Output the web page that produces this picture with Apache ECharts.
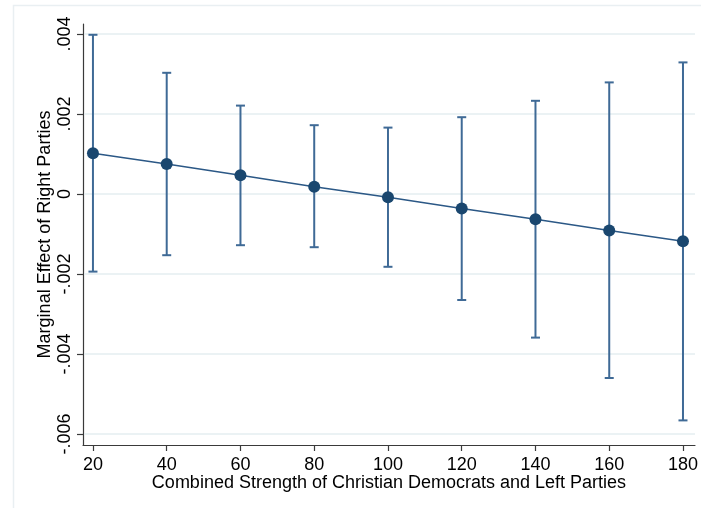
<!DOCTYPE html>
<html>
<head>
<meta charset="utf-8">
<script src="https://cdn.jsdelivr.net/npm/echarts@6/dist/echarts.min.js"></script>
<style>
  html, body { margin: 0; padding: 0; background: #ffffff; }
  #chart { width: 701px; height: 508px; }
</style>
</head>
<body>
<div id="chart"></div>
<script>
// Combined strength values at which the marginal effect is evaluated
const strength = [20, 40, 60, 80, 100, 120, 140, 160, 180];
// Marginal effect of right parties (point estimates)
const effect = [0.00102, 0.00075, 0.00047, 0.00018, -0.00008, -0.00036, -0.00063, -0.00091, -0.00118];
// Confidence interval bounds
const upper = [0.00398, 0.00303, 0.00221, 0.00172, 0.00166, 0.00192, 0.00233, 0.00279, 0.00329];
const lower = [-0.00194, -0.00153, -0.00128, -0.00133, -0.00182, -0.00265, -0.00359, -0.00460, -0.00566];

// Axis ticks and their labels
const xTicks = [20, 40, 60, 80, 100, 120, 140, 160, 180];
const yTicks = [-0.006, -0.004, -0.002, 0, 0.002, 0.004];
const yTickLabels = ['-.006', '-.004', '-.002', '0', '.002', '.004'];

const navy = '#1a476f';
const capColor = '#3f6a96';
const gridColor = '#e4eef0';
const axisColor = '#3a3a3a';
const font = "'Liberation Sans', Arial, sans-serif";
const textSize = 18;

const chart = echarts.init(document.getElementById('chart'), null, { renderer: 'canvas' });

const ciData = strength.map((s, i) => [s, lower[i], upper[i]]);
const pointData = strength.map((s, i) => [s, effect[i]]);
const gridData = yTicks.map(v => [v]);

chart.setOption({
  animation: false,
  backgroundColor: '#ffffff',
  graphic: [{
    type: 'rect',
    shape: { x: 13.5, y: 5.5, width: 720, height: 520 },
    style: { fill: 'none', stroke: '#e9eff2', lineWidth: 1.5 },
    silent: true,
    z: -10
  }],
  grid: { left: 83, right: 6, top: 24, bottom: 63, containLabel: false },
  xAxis: {
    type: 'value',
    min: 17.3,
    max: 183.25,
    name: 'Combined Strength of Christian Democrats and Left Parties',
    nameLocation: 'middle',
    nameGap: 29,
    nameMoveOverlap: false,
    nameTextStyle: { fontFamily: font, fontSize: textSize, color: '#000' },
    axisLine: { show: true, onZero: false, lineStyle: { color: axisColor, width: 1.2 } },
    axisTick: { show: true, length: 6, lineStyle: { color: axisColor, width: 1.2 }, customValues: xTicks },
    axisLabel: { fontFamily: font, fontSize: textSize, color: '#000', margin: 11, customValues: xTicks },
    splitLine: { show: false }
  },
  yAxis: {
    type: 'value',
    min: -0.006275,
    max: 0.00425,
    name: 'Marginal Effect of Right Parties',
    nameLocation: 'middle',
    nameGap: 29,
    nameMoveOverlap: false,
    nameRotate: 90,
    nameTextStyle: { fontFamily: font, fontSize: textSize, color: '#000' },
    axisLine: { show: true, onZero: false, lineStyle: { color: axisColor, width: 1.2 } },
    axisTick: { show: true, length: 6, lineStyle: { color: axisColor, width: 1.2 }, customValues: yTicks },
    axisLabel: {
      fontFamily: font, fontSize: textSize, color: '#000', margin: 9, rotate: 90,
      customValues: yTicks,
      formatter: v => {
        const i = yTicks.findIndex(t => Math.abs(t - v) < 1e-9);
        return i >= 0 ? yTickLabels[i] : '';
      }
    },
    splitLine: { show: false }
  },
  series: [
    {
      // horizontal reference lines at each labelled y tick
      type: 'custom',
      data: gridData,
      silent: true,
      z: 1,
      encode: { y: 0 },
      renderItem: (params, api) => {
        const cs = params.coordSys;
        const y = api.coord([20, api.value(0)])[1];
        return {
          type: 'line',
          shape: { x1: cs.x + 1, y1: y, x2: cs.x + cs.width, y2: y },
          style: { stroke: gridColor, lineWidth: 1.5 }
        };
      }
    },
    {
      // confidence interval caps
      type: 'custom',
      data: ciData,
      z: 2,
      renderItem: (params, api) => {
        const x = api.value(0);
        const lo = api.coord([x, api.value(1)]);
        const hi = api.coord([x, api.value(2)]);
        const half = 4.5;
        const style = { stroke: capColor, lineWidth: 2, fill: 'none' };
        return {
          type: 'group',
          children: [
            { type: 'line', shape: { x1: lo[0], y1: lo[1], x2: hi[0], y2: hi[1] }, style },
            { type: 'line', shape: { x1: lo[0] - half, y1: lo[1], x2: lo[0] + half, y2: lo[1] }, style },
            { type: 'line', shape: { x1: hi[0] - half, y1: hi[1], x2: hi[0] + half, y2: hi[1] }, style }
          ]
        };
      }
    },
    {
      type: 'line',
      data: pointData,
      z: 3,
      symbol: 'circle',
      symbolSize: 12,
      lineStyle: { color: '#2b5886', width: 1.5 },
      itemStyle: { color: navy, borderWidth: 0 }
    }
  ]
});
</script>
</body>
</html>
